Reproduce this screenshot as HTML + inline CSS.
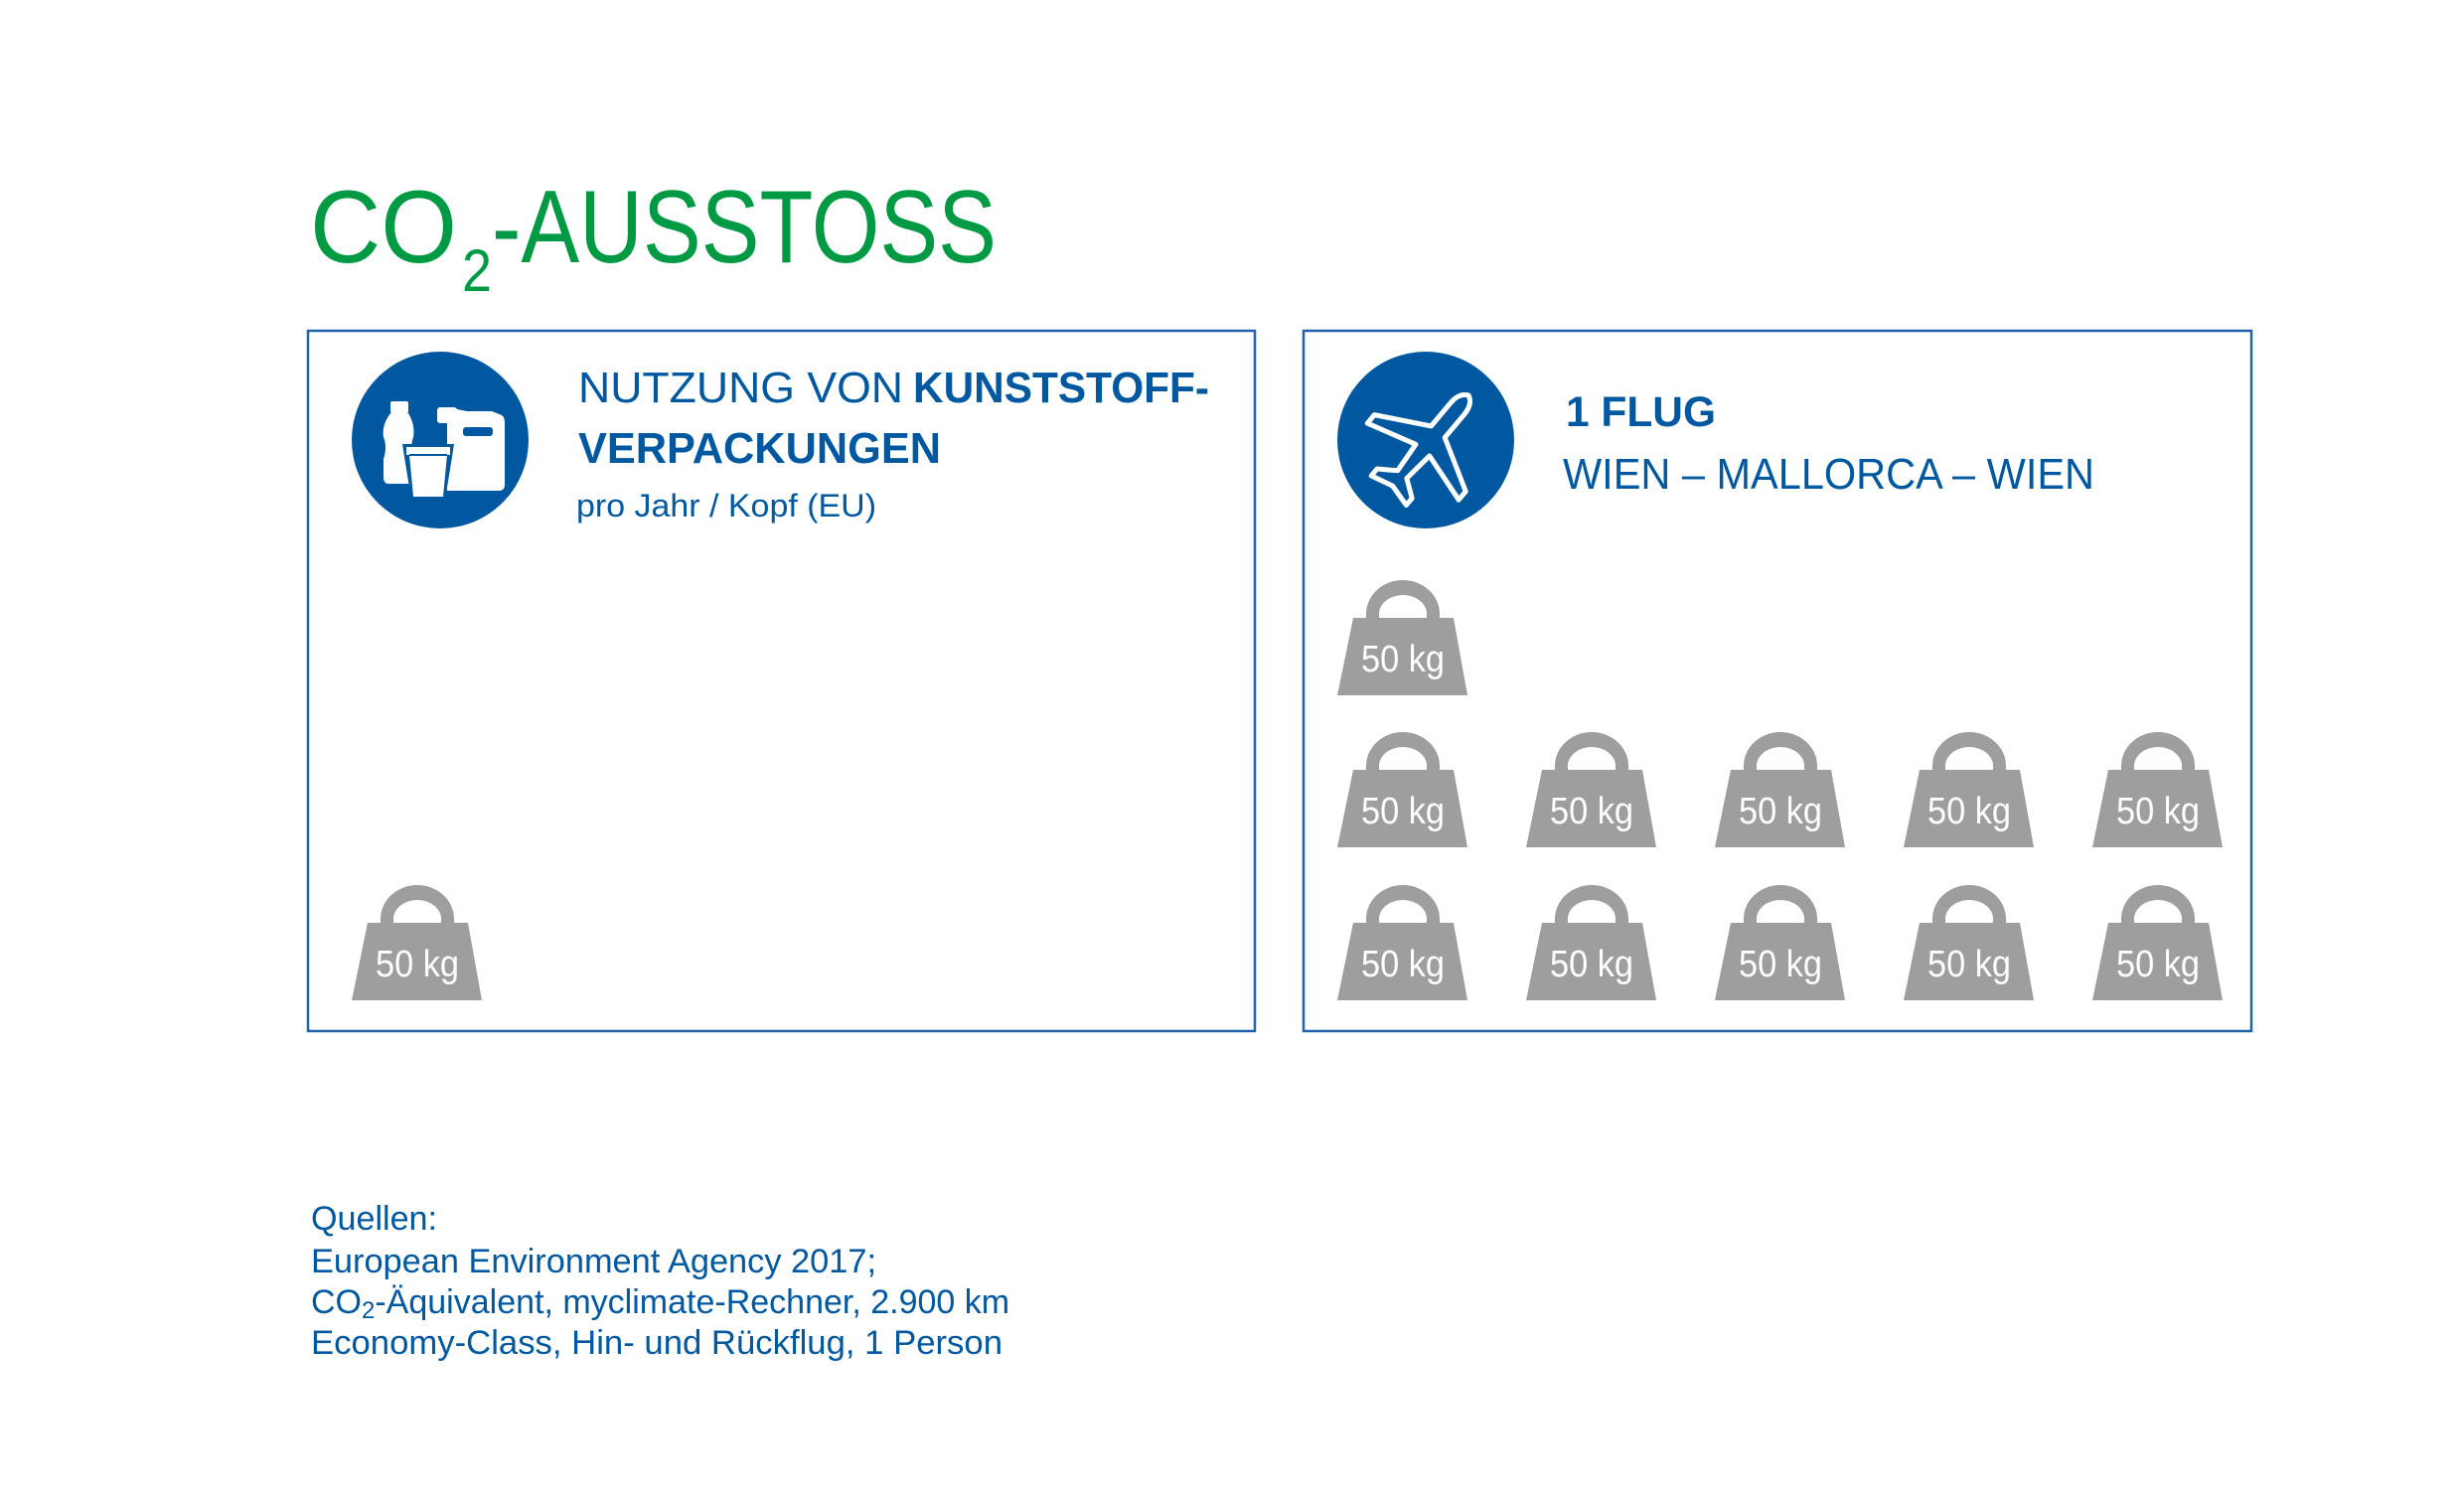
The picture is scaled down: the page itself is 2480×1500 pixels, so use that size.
<!DOCTYPE html>
<html><head><meta charset="utf-8"><style>
html,body{margin:0;padding:0;background:#fff;}
svg{display:block;}
</style></head><body>
<svg width="2480" height="1500" viewBox="0 0 2480 1500" xmlns="http://www.w3.org/2000/svg">
<defs>
<g id="w">
<path d="M29,32 L29,28 A37,34 0 0 1 103,28 L103,32 L90,32 L90,28 A24,19 0 0 0 42,28 L42,32 Z" style="fill:#9d9ea0"/>
<path d="M16,32 L117,32 L131,110 L0,110 Z" fill="#9d9ea0"/>
<text x="66" y="86" font-family="Liberation Sans, sans-serif" font-size="38" fill="#fff" text-anchor="middle" textLength="84" lengthAdjust="spacingAndGlyphs">50 kg</text>
</g>
</defs>
<g font-family="Liberation Sans, sans-serif">
<text x="312" y="264" font-size="104" fill="#009a44" textLength="148" lengthAdjust="spacingAndGlyphs">CO</text>
<text x="465" y="293" font-size="60" fill="#009a44" textLength="30" lengthAdjust="spacingAndGlyphs">2</text>
<text x="495" y="264" font-size="104" fill="#009a44" textLength="508" lengthAdjust="spacingAndGlyphs">-AUSSTOSS</text>

<rect x="310" y="333" width="953" height="705" fill="none" stroke="#1f63ad" stroke-width="2.5"/>
<rect x="1312" y="333" width="954" height="705" fill="none" stroke="#1f63ad" stroke-width="2.5"/>

<circle cx="443" cy="443" r="89" fill="#0058a0"/>
<path d="M495,414 L505,418 Q508,420 508,426 L508,488 Q508,494 502,494 L450,494 L450,410 L470,414 Z" fill="#fff"/>
<rect x="440" y="410" width="20" height="16" rx="3" fill="#fff"/>
<rect x="466" y="430" width="30" height="9" rx="3" fill="#0058a0"/>
<rect x="393" y="404" width="18" height="12" rx="2" fill="#fff"/>
<path d="M393,416 L411,416 Q418,428 416,440 Q412,450 418,462 L419,480 Q418,487 412,487 L391,487 Q386,487 386,480 L386,462 Q390,450 386,440 Q384,428 393,416Z" fill="#fff"/>
<path d="M405,447 L457,447 L455,460 L448,503 L414,503 L407,460 Z" fill="#0058a0"/>
<path d="M409,450 L453,450 L453,458 L450,458 L446,500 L416,500 L412,458 L409,458 Z" fill="#fff"/>
<line x1="412" y1="458" x2="450" y2="458" stroke="#0058a0" stroke-width="2"/>

<text x="582" y="405" font-size="44" fill="#0058a0" textLength="327" lengthAdjust="spacingAndGlyphs">NUTZUNG VON</text>
<text x="919" y="405" font-size="44" font-weight="bold" fill="#0058a0" textLength="298" lengthAdjust="spacingAndGlyphs">KUNSTSTOFF-</text>
<text x="582" y="466" font-size="44" font-weight="bold" fill="#0058a0" textLength="365" lengthAdjust="spacingAndGlyphs">VERPACKUNGEN</text>
<text x="580" y="520" font-size="32" fill="#0058a0" textLength="302" lengthAdjust="spacingAndGlyphs">pro Jahr / Kopf (EU)</text>

<circle cx="1435" cy="443" r="89" fill="#0058a0"/>
<path transform="translate(1437,447) rotate(40)" d="M0,-64 Q9,-60 9,-46 L9,-16 L60,12 L60,23 L9,8 L6,40 L23,52 L23,61 L0,55 L-23,61 L-23,52 L-6,40 L-9,8 L-60,23 L-60,12 L-9,-16 L-9,-46 Q-9,-60 0,-64Z" fill="none" stroke="#fff" stroke-width="5" stroke-linejoin="round"/>

<text x="1576" y="429" font-size="43" font-weight="bold" fill="#0058a0" textLength="151" lengthAdjust="spacingAndGlyphs">1 FLUG</text>
<text x="1573" y="492" font-size="44" fill="#0058a0" textLength="535" lengthAdjust="spacingAndGlyphs">WIEN – MALLORCA – WIEN</text>

<use href="#w" x="354" y="897"/>
<use href="#w" x="1346" y="590"/>
<use href="#w" x="1346" y="743"/><use href="#w" x="1536" y="743"/><use href="#w" x="1726" y="743"/><use href="#w" x="1916" y="743"/><use href="#w" x="2106" y="743"/>
<use href="#w" x="1346" y="897"/><use href="#w" x="1536" y="897"/><use href="#w" x="1726" y="897"/><use href="#w" x="1916" y="897"/><use href="#w" x="2106" y="897"/>

<g font-size="34" fill="#0058a0">
<text x="313" y="1238" textLength="127" lengthAdjust="spacingAndGlyphs">Quellen:</text>
<text x="313" y="1281" textLength="569" lengthAdjust="spacingAndGlyphs">European Environment Agency 2017;</text>
<text x="313" y="1322">CO<tspan font-size="24" dy="5">2</tspan><tspan dy="-5">-Äquivalent, myclimate-Rechner, 2.900 km</tspan></text>
<text x="313" y="1363" textLength="696" lengthAdjust="spacingAndGlyphs">Economy-Class, Hin- und Rückflug, 1 Person</text>
</g>
</g>
</svg>
</body></html>
